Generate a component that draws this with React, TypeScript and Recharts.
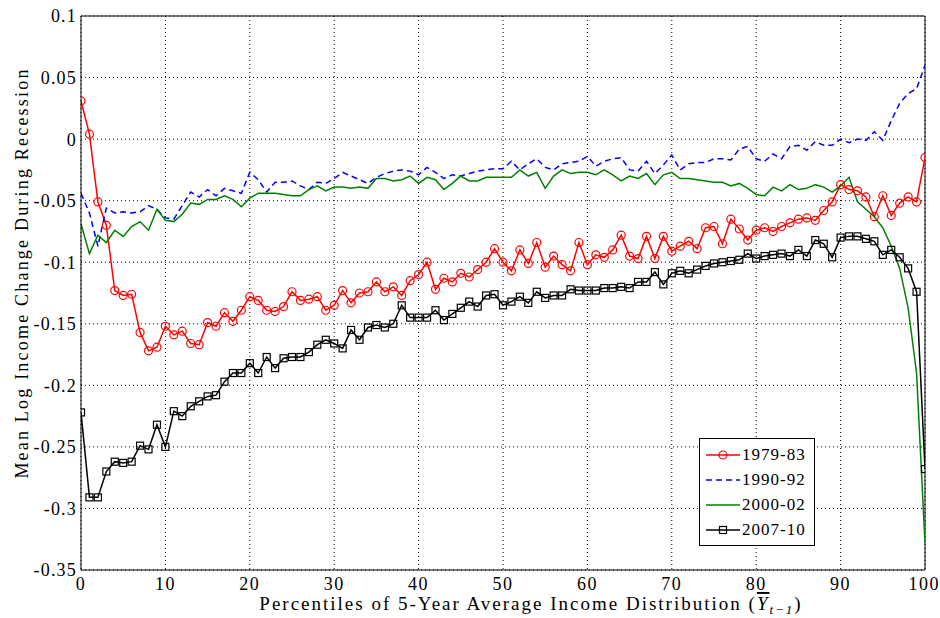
import { LineChart, Line, XAxis, YAxis, CartesianGrid, Legend, ReferenceLine } from 'recharts';

const SERIF = '"Times New Roman", "Liberation Serif", Tinos, "DejaVu Serif", "Noto Serif", serif';

// percentile bins 0..100
const percentiles = Array.from({ length: 101 }, (_, i) => i);
const xTicks = [0, 10, 20, 30, 40, 50, 60, 70, 80, 90, 100];
const yTicks = [0.1, 0.05, 0, -0.05, -0.1, -0.15, -0.2, -0.25, -0.3, -0.35];

const rec7983 = [
  0.031, 0.004, -0.051, -0.07, -0.123, -0.127, -0.126, -0.157, -0.172, -0.169,
  -0.152, -0.159, -0.156, -0.166, -0.167, -0.149, -0.152, -0.141, -0.148, -0.139,
  -0.128, -0.131, -0.139, -0.14, -0.136, -0.124, -0.131, -0.13, -0.128, -0.139,
  -0.135, -0.123, -0.133, -0.125, -0.124, -0.116, -0.124, -0.12, -0.127, -0.115,
  -0.11, -0.1, -0.122, -0.113, -0.116, -0.109, -0.112, -0.106, -0.1, -0.089,
  -0.1, -0.107, -0.09, -0.101, -0.084, -0.104, -0.095, -0.102, -0.107, -0.084,
  -0.102, -0.094, -0.096, -0.09, -0.078, -0.095, -0.097, -0.079, -0.097, -0.079,
  -0.091, -0.087, -0.083, -0.089, -0.072, -0.071, -0.085, -0.065, -0.073, -0.082,
  -0.074, -0.072, -0.075, -0.071, -0.068, -0.065, -0.064, -0.066, -0.058, -0.051,
  -0.037, -0.041, -0.042, -0.047, -0.063, -0.046, -0.062, -0.052, -0.047, -0.051,
  -0.015,
];

const rec9092 = [
  -0.044, -0.06, -0.087, -0.056, -0.06, -0.059, -0.06, -0.059, -0.054, -0.057,
  -0.064, -0.065, -0.054, -0.043, -0.047, -0.041, -0.046, -0.04, -0.042, -0.044,
  -0.027, -0.033, -0.043, -0.035, -0.035, -0.034, -0.038, -0.041, -0.035, -0.036,
  -0.032, -0.027, -0.03, -0.033, -0.036, -0.031, -0.028, -0.026, -0.025, -0.026,
  -0.029, -0.023, -0.027, -0.032, -0.029, -0.03, -0.028, -0.026, -0.025, -0.024,
  -0.024, -0.018, -0.025, -0.02, -0.016, -0.023, -0.025, -0.02, -0.019, -0.018,
  -0.014, -0.022, -0.018, -0.016, -0.015, -0.025, -0.026, -0.018, -0.028, -0.021,
  -0.013, -0.025, -0.02, -0.019, -0.019, -0.016, -0.016, -0.017, -0.008, -0.006,
  -0.016, -0.018, -0.012, -0.016, -0.006, -0.005, -0.009, -0.002, -0.005, -0.005,
  0.0, -0.003, 0.0, -0.001, 0.006, -0.001, 0.015, 0.029, 0.037, 0.041,
  0.06,
];

const rec0002 = [
  -0.069, -0.093, -0.078, -0.084, -0.074, -0.079, -0.071, -0.067, -0.074, -0.057,
  -0.066, -0.067, -0.061, -0.052, -0.053, -0.049, -0.049, -0.046, -0.049, -0.055,
  -0.048, -0.044, -0.044, -0.044, -0.045, -0.046, -0.046, -0.041, -0.038, -0.042,
  -0.039, -0.039, -0.04, -0.039, -0.04, -0.032, -0.032, -0.034, -0.033, -0.03,
  -0.036, -0.031, -0.033, -0.041, -0.036, -0.03, -0.034, -0.034, -0.031, -0.031,
  -0.031, -0.031, -0.025, -0.03, -0.027, -0.04, -0.03, -0.025, -0.028, -0.027,
  -0.027, -0.029, -0.025, -0.029, -0.034, -0.03, -0.032, -0.028, -0.037, -0.029,
  -0.027, -0.032, -0.032, -0.033, -0.034, -0.035, -0.035, -0.038, -0.036, -0.04,
  -0.045, -0.046, -0.039, -0.042, -0.037, -0.041, -0.04, -0.037, -0.039, -0.043,
  -0.038, -0.031, -0.051, -0.057, -0.063, -0.072, -0.087, -0.105, -0.137, -0.19,
  -0.328,
];

const rec0710 = [
  -0.222, -0.291, -0.291, -0.27, -0.262, -0.263, -0.262, -0.249, -0.252, -0.232,
  -0.25, -0.221, -0.225, -0.217, -0.213, -0.209, -0.208, -0.197, -0.19, -0.19,
  -0.182, -0.19, -0.177, -0.186, -0.178, -0.177, -0.177, -0.173, -0.167, -0.163,
  -0.166, -0.17, -0.155, -0.163, -0.153, -0.151, -0.153, -0.15, -0.135, -0.145,
  -0.145, -0.145, -0.139, -0.147, -0.142, -0.137, -0.132, -0.136, -0.127, -0.126,
  -0.135, -0.132, -0.128, -0.133, -0.124, -0.129, -0.127, -0.127, -0.122, -0.123,
  -0.123, -0.123, -0.121, -0.121, -0.12, -0.121, -0.116, -0.116, -0.108, -0.118,
  -0.109, -0.107, -0.109, -0.106, -0.103, -0.101, -0.1, -0.099, -0.098, -0.093,
  -0.097, -0.095, -0.094, -0.093, -0.095, -0.09, -0.095, -0.082, -0.085, -0.096,
  -0.08, -0.079, -0.079, -0.081, -0.083, -0.094, -0.09, -0.096, -0.105, -0.124,
  -0.268,
];

const data = percentiles.map((p, i) => ({
  p,
  r7983: rec7983[i],
  r9092: rec9092[i],
  r0002: rec0002[i],
  r0710: rec0710[i],
}));

const series = [
  { key: 'r7983', name: '1979-83', color: '#ff0000', dash: undefined, marker: 'circle' },
  { key: 'r9092', name: '1990-92', color: '#0000ff', dash: '6 4', marker: 'none' },
  { key: 'r0002', name: '2000-02', color: '#008000', dash: undefined, marker: 'none' },
  { key: 'r0710', name: '2007-10', color: '#000000', dash: undefined, marker: 'square' },
];

const SquareDot = (props: any) => {
  const { cx, cy, index } = props;
  if (cx == null || cy == null) return null;
  return (
    <rect key={`sq-${index}`} x={cx - 3.5} y={cy - 3.5} width={7} height={7}
      fill="none" stroke="#000" strokeWidth={1.2} />
  );
};

const LegendBox = () => (
  <div style={{
    border: '1px solid #000', background: '#fff', padding: '3px 8px 3px 6px',
    fontFamily: SERIF, fontSize: 17, letterSpacing: 1,
  }}>
    {series.map((s) => (
      <div key={s.key} style={{ display: 'flex', alignItems: 'center', height: 25 }}>
        <svg width={34} height={12} style={{ marginRight: 2 }}>
          <line x1={0} y1={6} x2={34} y2={6} stroke={s.color} strokeWidth={1.5}
            strokeDasharray={s.dash} />
          {s.marker === 'circle' && <circle cx={17} cy={6} r={4} fill="none" stroke={s.color} strokeWidth={1.2} />}
          {s.marker === 'square' && <rect x={13.5} y={2.5} width={7} height={7} fill="none" stroke={s.color} strokeWidth={1.2} />}
        </svg>
        <span>{s.name}</span>
      </div>
    ))}
  </div>
);

const XTitle = () => (
  <text x={531} y={610} textAnchor="middle" fontFamily={SERIF} fontSize={19}
    letterSpacing={2} fill="#000">
    Percentiles of 5-Year Average Income Distribution (
    <tspan fontStyle="italic" style={{ textDecoration: 'overline' }}>Y</tspan>
    <tspan fontStyle="italic" fontSize={13} dy={4}>t−1</tspan>
    <tspan dy={-4}>)</tspan>
  </text>
);

const YTitle = () => (
  <text x={0} y={0} transform="translate(28,273) rotate(-90)" textAnchor="middle"
    fontFamily={SERIF} fontSize={18} letterSpacing={2.2} fill="#000">
    Mean Log Income Change During Recession
  </text>
);

export default function App() {
  return (
    <div style={{ position: 'absolute', left: 0, top: 0, width: 940, height: 618, background: '#fff' }}>
      <LineChart width={940} height={618} data={data}
        margin={{ top: 16, right: 15, bottom: 18, left: 0 }}>
        <CartesianGrid stroke="#000" strokeDasharray="1 3" strokeWidth={1} />
        <XAxis dataKey="p" type="number" domain={[0, 100]} ticks={xTicks}
          allowDataOverflow tickLine={false} tickSize={0} tickMargin={7} height={30}
          axisLine={{ stroke: '#000' }}
          tick={{ fill: '#000', fontFamily: SERIF, fontSize: 18, letterSpacing: 1.5 }}
          label={<XTitle />} />
        <YAxis type="number" domain={[-0.35, 0.1]} ticks={yTicks} allowDataOverflow
          width={81} tickLine={false} tickSize={0} tickMargin={4}
          axisLine={{ stroke: '#000' }}
          tickFormatter={(v: number) => String(v)}
          tick={{ fill: '#000', fontFamily: SERIF, fontSize: 18, letterSpacing: 1.2 }}
          label={<YTitle />} />
        <ReferenceLine y={0.1} stroke="#000" strokeWidth={1} />
        <ReferenceLine x={100} stroke="#000" strokeWidth={1} />
        {series.map((s) => (
          <Line key={s.key} dataKey={s.key} name={s.name} type="linear"
            stroke={s.color} strokeWidth={1.5} strokeDasharray={s.dash}
            isAnimationActive={false}
            dot={s.marker === 'circle'
              ? { r: 4, fill: 'none', stroke: s.color, strokeWidth: 1.2 }
              : s.marker === 'square' ? SquareDot : false}
            activeDot={false} />
        ))}
        <Legend layout="vertical" align="center" verticalAlign="middle"
          content={() => <LegendBox />}
          wrapperStyle={{ left: 699, top: 438, width: 'auto', height: 'auto' }} />
      </LineChart>
    </div>
  );
}
